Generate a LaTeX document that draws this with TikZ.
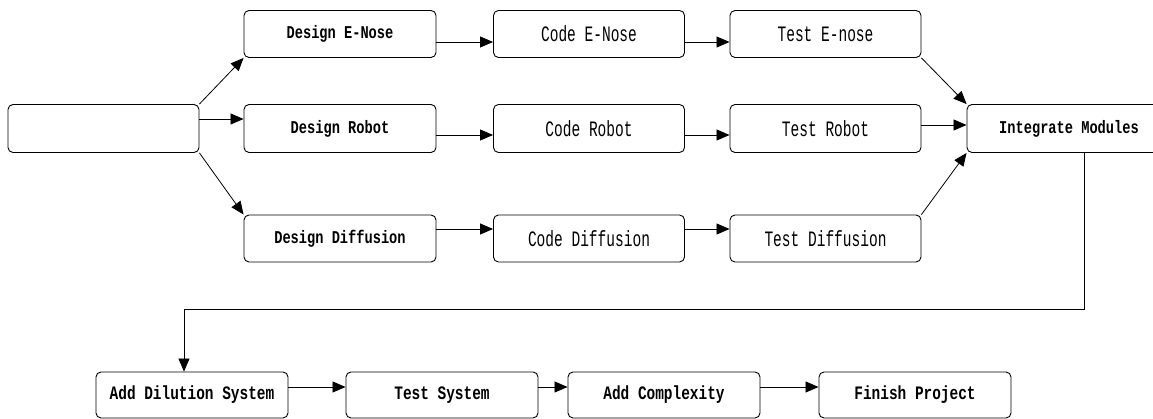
\documentclass[tikz,border=0pt]{standalone}
\usepackage{fontspec}
\usetikzlibrary{arrows.meta}
\newfontfamily\boxfont[FakeStretch=0.76]{Liberation Mono}
\newfontfamily\narrowfont[FakeStretch=0.66]{Liberation Mono}
\tikzset{
  box/.style={draw, line width=0.9pt, rounded corners=5pt, inner sep=0pt, minimum height=47pt},
  wide/.style={box, minimum width=192pt, font=\boxfont\bfseries\fontsize{18}{20}\selectfont},
  cbox/.style={box, minimum width=191pt, font=\narrowfont\fontsize{22}{24}\selectfont},
  bbox/.style={box, minimum width=192pt, minimum height=46pt, font=\boxfont\bfseries\fontsize{19}{21}\selectfont},
  conn/.style={line width=0.8pt, -{Triangle[length=13pt,width=11pt]}},
  plain/.style={line width=0.8pt},
}
\begin{document}
\begin{tikzpicture}[x=1pt,y=-1pt]
\useasboundingbox (0,0) rectangle (1153,419);
\begin{scope}
\clip (0,0) rectangle (1153,419);
% top level nodes
\node[wide, minimum width=191pt, minimum height=48pt] (start) at (103.5,128.5) {};
\node[wide] (de) at (340,34) {Design E-Nose};
\node[wide, minimum height=48pt] (dr) at (340,128.5) {Design Robot};
\node[wide] (dd) at (340,238.5) {Design Diffusion};
\node[cbox] (ce) at (589,34) {Code E-Nose};
\node[cbox, minimum height=48pt] (cr) at (589,128.5) {Code Robot};
\node[cbox] (cd) at (589,238.5) {Code Diffusion};
\node[cbox] (te) at (825.5,34) {Test E-nose};
\node[cbox, minimum height=48pt] (tr) at (825.5,128.5) {Test Robot};
\node[cbox] (td) at (825.5,238.5) {Test Diffusion};
\node[wide, minimum width=204pt, minimum height=48pt] (im) at (1069,128.5) {Integrate Modules};
% bottom row
\node[bbox] (ad) at (192,395) {Add Dilution System};
\node[bbox] (ts) at (442,395) {Test System};
\node[bbox] (ac) at (664,395) {Add Complexity};
\node[bbox] (fp) at (915,395) {Finish Project};
\end{scope}
% connectors from start
\draw[conn] (start.north east) -- (de.south west);
\draw[conn] (start.east |- 0,119) -- (dr.west |- 0,119);
\draw[conn] (start.south east) -- (dd.north west);
% rows
\draw[conn] (de.east |- 0,42) -- (ce.west |- 0,42);
\draw[conn] (ce.east |- 0,42) -- (te.west |- 0,42);
\draw[conn] (dr.east |- 0,135) -- (cr.west |- 0,135);
\draw[conn] (cr.east |- 0,135) -- (tr.west |- 0,135);
\draw[conn] (dd.east |- 0,229) -- (cd.west |- 0,229);
\draw[conn] (cd.east |- 0,229) -- (td.west |- 0,229);
% into integrate
\draw[conn] (te.south east) -- (im.north west);
\draw[conn] (tr.east |- 0,125) -- (im.west |- 0,125);
\draw[conn] (td.north east) -- (im.south west);
% down to bottom row
\coordinate (c1) at (1084,309);
\coordinate (c2) at (184,309);
\draw[conn] (im.south -| c1) -- (c1) -- (c2) -- (ad.north -| c2);
\draw[conn] (ad.east |- 0,387) -- (ts.west |- 0,387);
\draw[conn] (ts.east |- 0,387) -- (ac.west |- 0,387);
\draw[conn] (ac.east |- 0,387) -- (fp.west |- 0,387);
\end{tikzpicture}
\end{document}
